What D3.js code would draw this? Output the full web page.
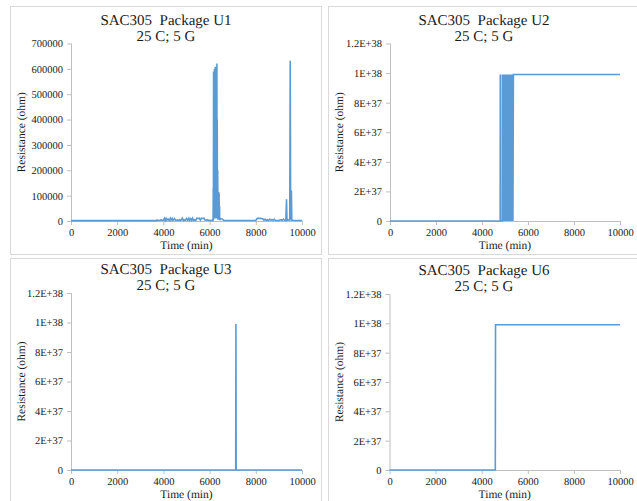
<!DOCTYPE html>
<html>
<head>
<meta charset="utf-8">
<script src="https://cdn.jsdelivr.net/npm/d3@7/dist/d3.min.js"></script>
<style>
  html, body { margin: 0; padding: 0; background: #fff; }
  svg { display: block; }
  svg text { font-family: "Liberation Serif", "Times New Roman", serif !important; text-rendering: geometricPrecision; }
</style>
</head>
<body>
<svg id="chart" width="637" height="501" font-family="Liberation Serif"></svg>
<script>
// ---------- DATA ----------
const xTicks = [0, 2000, 4000, 6000, 8000, 10000];
const u1YTicks = [0, 100000, 200000, 300000, 400000, 500000, 600000, 700000];
const bigYTicks = [0, 2e37, 4e37, 6e37, 8e37, 1e38, 1.2e38];
const bigYLabels = ["0", "2E+37", "4E+37", "6E+37", "8E+37", "1E+38", "1.2E+38"];

// [time (min), resistance (ohm)]
const u1Data = [
  [0,1500],[3700,1500],[3720,4000],[3760,2000],[3800,3000],[3850,1500],[3900,5000],[3950,2000],
  [4000,3000],[4050,11000],[4080,2000],[4120,10000],[4150,3000],[4200,8000],[4250,2000],[4300,11000],
  [4330,3000],[4380,10000],[4420,2000],[4480,9000],[4520,3000],[4600,4000],[4650,2000],[4700,5000],
  [4750,2000],[4820,11000],[4860,2000],[4900,4000],[4950,2000],[5000,10000],[5050,3000],[5100,11000],
  [5130,2000],[5180,9000],[5220,3000],[5260,11000],[5300,2000],[5350,5000],[5400,2000],[5450,11000],
  [5500,10000],[5550,11000],[5600,3000],[5650,11000],[5700,10000],[5750,11000],[5800,4000],[5850,3000],
  [5900,5000],[5950,2000],[6000,3000],[6050,2000],[6100,3000],[6150,2000],
  [6160,130000],[6165,5000],[6172,590000],[6180,20000],[6188,460000],[6196,30000],[6204,470000],
  [6212,600000],[6218,10000],[6226,480000],[6234,20000],[6246,608000],[6254,40000],[6262,470000],
  [6270,15000],[6280,460000],[6290,10000],[6298,300000],[6306,10000],[6316,621000],[6322,30000],
  [6330,400000],[6340,20000],[6350,200000],[6360,5000],[6370,115000],[6380,10000],[6390,110000],
  [6400,8000],[6410,112000],[6420,5000],[6430,60000],[6440,3000],[6460,10000],[6500,9000],
  [6550,8000],[6600,3000],[6650,2000],[8000,2000],[8050,9000],[8100,11000],[8150,10000],
  [8200,11000],[8250,10000],[8300,9000],[8350,3000],[8400,7000],[8450,2000],[8500,5000],
  [8550,2000],[8600,7000],[8650,3000],[8700,6000],[8750,2000],[8800,7000],[8850,2000],
  [9000,2000],[9100,5000],[9150,2000],[9200,7000],[9250,2000],[9300,3000],[9330,86000],
  [9350,3000],[9400,5000],[9470,3000],[9490,632000],[9510,5000],[9540,120000],[9560,3000],
  [10000,2000]
];

const u2Data = [
  [0,0],[4790,0],[4795,9.9e37],[4800,0],[4880,0],[4885,9.9e37],[4905,0],[4925,9.9e37],
  [4945,0],[4965,9.9e37],[4985,0],[5005,9.9e37],[5025,0],[5045,9.9e37],[5065,0],[5085,9.9e37],
  [5105,0],[5125,9.9e37],[5145,0],[5165,9.9e37],[5185,0],[5205,9.9e37],[5225,0],[5245,9.9e37],
  [5265,0],[5285,9.9e37],[5305,0],[5325,9.9e37],[5345,0],[5365,9.9e37],[5380,9.9e37],
  [10000,9.9e37]
];

const u3Data = [[0,0],[7130,0],[7140,9.9e37],[7150,0],[10000,0]];

const u6Data = [[0,0],[4590,0],[4600,9.9e37],[10000,9.9e37]];

// ---------- LAYOUT ----------
const svg = d3.select("#chart");
const FONT = "Liberation Serif, Times New Roman, serif";
const panels = [
  {title: "SAC305  Package U1", data: u1Data, yMax: 700000, yTicks: u1YTicks, yLabels: u1YTicks.map(String),
   frame: {x: 10.5, y: 6.5, w: 311, h: 248}, plot: {x0: 71, x1: 302, y0: 43.5, y1: 221}},
  {title: "SAC305  Package U2", data: u2Data, yMax: 1.2e38, yTicks: bigYTicks, yLabels: bigYLabels,
   frame: {x: 328.5, y: 6.5, w: 311, h: 248}, plot: {x0: 390, x1: 620, y0: 43.5, y1: 221}},
  {title: "SAC305  Package U3", data: u3Data, yMax: 1.2e38, yTicks: bigYTicks, yLabels: bigYLabels,
   frame: {x: 10.5, y: 258.5, w: 311, h: 250}, plot: {x0: 71, x1: 302, y0: 293, y1: 470}},
  {title: "SAC305  Package U6", data: u6Data, yMax: 1.2e38, yTicks: bigYTicks, yLabels: bigYLabels,
   frame: {x: 328.5, y: 258.5, w: 311, h: 250}, plot: {x0: 389.5, x1: 620, y0: 294, y1: 470}}
];

const axisColor = "#bfbfbf";
const lineColor = "#5b9bd5";
const textColor = "#1a1a1a";

panels.forEach(p => {
  const g = svg.append("g").attr("font-family", FONT);
  g.append("rect")
    .attr("x", p.frame.x).attr("y", p.frame.y)
    .attr("width", p.frame.w).attr("height", p.frame.h)
    .attr("fill", "#fff").attr("stroke", "#d9d9d9").attr("stroke-width", 1);

  const x = d3.scaleLinear().domain([0, 10000]).range([p.plot.x0, p.plot.x1]);
  const y = d3.scaleLinear().domain([0, p.yMax]).range([p.plot.y1, p.plot.y0]);

  // Y axis
  const yAxis = d3.axisLeft(y).tickValues(p.yTicks)
    .tickFormat((d, i) => p.yLabels[i]).tickSize(4).tickPadding(4);
  const ya = g.append("g").attr("transform", `translate(${p.plot.x0},0)`).call(yAxis)
    .attr("font-family", FONT).attr("font-size", 10.5);
  ya.select(".domain").attr("stroke", axisColor).attr("d", `M0.5,${p.plot.y1}V${p.plot.y0}`);
  ya.selectAll(".tick line").attr("stroke", axisColor);
  ya.selectAll(".tick text").attr("fill", textColor).attr("font-family", FONT);

  // X axis
  const xAxis = d3.axisBottom(x).tickValues(xTicks).tickFormat(d3.format("d"))
    .tickSize(4).tickPadding(4);
  const xa = g.append("g").attr("transform", `translate(0,${p.plot.y1})`).call(xAxis)
    .attr("font-family", FONT).attr("font-size", 10.5);
  xa.select(".domain").attr("stroke", axisColor).attr("d", `M${p.plot.x0},0.5H${p.plot.x1}`);
  xa.selectAll(".tick line").attr("stroke", axisColor);
  xa.selectAll(".tick text").attr("fill", textColor).attr("font-family", FONT);

  // Data line
  const line = d3.line().x(d => x(d[0])).y(d => y(d[1]));
  g.append("path").datum(p.data)
    .attr("d", line)
    .attr("fill", "none").attr("stroke", lineColor)
    .attr("stroke-width", 1.6).attr("stroke-linejoin", "miter");

  // Title
  const cx = p.frame.x + p.frame.w / 2;
  g.append("text").attr("x", cx).attr("y", p.plot.y0 - 19)
    .attr("text-anchor", "middle").attr("fill", textColor).attr("font-family", FONT)
    .attr("font-size", 15).style("white-space", "pre").text(p.title);
  g.append("text").attr("x", cx).attr("y", p.plot.y0 - 3)
    .attr("text-anchor", "middle").attr("fill", textColor).attr("font-family", FONT)
    .attr("font-size", 15).text("25 C; 5 G");

  // Axis titles
  g.append("text").attr("x", (p.plot.x0 + p.plot.x1) / 2).attr("y", p.plot.y1 + 28)
    .attr("text-anchor", "middle").attr("fill", textColor).attr("font-family", FONT)
    .attr("font-size", 11.5).text("Time (min)");
  const ly = (p.plot.y0 + p.plot.y1) / 2;
  const lx = p.frame.x + 14.5;
  g.append("text")
    .attr("transform", `translate(${lx},${ly}) rotate(-90)`)
    .attr("text-anchor", "middle").attr("fill", textColor).attr("font-family", FONT)
    .attr("font-size", 11.5).text("Resistance (ohm)");
});
</script>
</body>
</html>
